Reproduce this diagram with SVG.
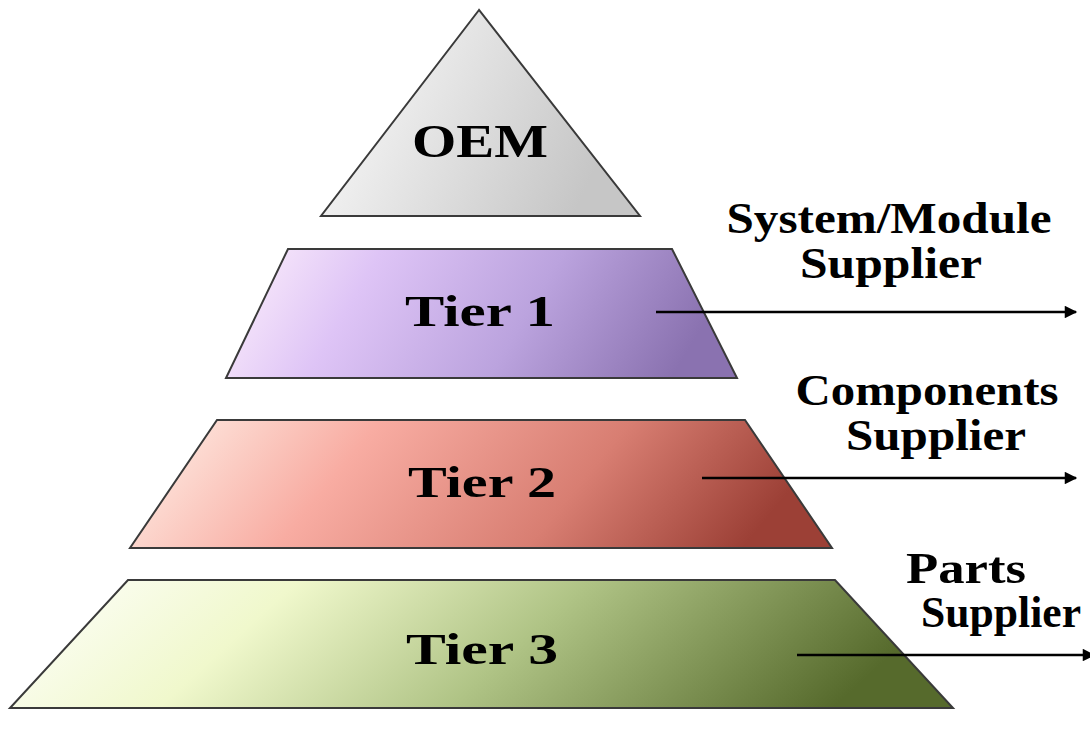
<svg xmlns="http://www.w3.org/2000/svg" width="1090" height="729" viewBox="0 0 1090 729">
<style>
.shape{stroke:#3a3a3a;stroke-width:2;stroke-linejoin:miter}
.lbl{font-family:"Liberation Serif","Times New Roman",serif;font-weight:bold;fill:#000}
.tier{font-size:45px}
.side{font-size:44px}
.conn{stroke:#000;stroke-width:2.5;fill:none}
</style>
<defs>
<linearGradient id="gOEM" x1="0" y1="0" x2="1" y2="0.3">
<stop offset="0" stop-color="#ffffff"/>
<stop offset="1" stop-color="#c6c6c6"/>
</linearGradient>
<linearGradient id="g1" x1="0" y1="0" x2="1" y2="0.15">
<stop offset="0" stop-color="#fff2fc"/>
<stop offset="0.3" stop-color="#dec4f6"/>
<stop offset="0.65" stop-color="#bba3de"/>
<stop offset="1" stop-color="#8a72b0"/>
</linearGradient>
<linearGradient id="g2" x1="0" y1="0" x2="1" y2="0.15">
<stop offset="0" stop-color="#fff4ec"/>
<stop offset="0.35" stop-color="#f8aca2"/>
<stop offset="0.7" stop-color="#d87e72"/>
<stop offset="1" stop-color="#9c4036"/>
</linearGradient>
<linearGradient id="g3" x1="0" y1="0" x2="1" y2="0.15">
<stop offset="0" stop-color="#ffffff"/>
<stop offset="0.3" stop-color="#f0f8cc"/>
<stop offset="0.6" stop-color="#b0c486"/>
<stop offset="1" stop-color="#566a2c"/>
</linearGradient>
<marker id="arr" viewBox="0 0 10 10" refX="9" refY="5" markerWidth="6.5" markerHeight="5" markerUnits="strokeWidth" orient="auto">
<path d="M0,0 L10,5 L0,10 z" fill="#000"/>
</marker>
</defs>

<g id="oem">
<polygon class="shape" points="479,10 321,216 640,216" fill="url(#gOEM)"/>
<text class="lbl" x="480" y="157" font-size="46" text-anchor="middle" textLength="136" lengthAdjust="spacingAndGlyphs">OEM</text>
</g>

<g id="tier1">
<polygon class="shape" points="288,249 672,249 737,378 226,378" fill="url(#g1)"/>
<text class="lbl tier" x="480" y="326" text-anchor="middle" textLength="150" lengthAdjust="spacingAndGlyphs">Tier 1</text>
</g>

<g id="tier2">
<polygon class="shape" points="217,420 745,420 832,548 130,548" fill="url(#g2)"/>
<text class="lbl tier" x="482" y="497" text-anchor="middle" textLength="148" lengthAdjust="spacingAndGlyphs">Tier 2</text>
</g>

<g id="tier3">
<polygon class="shape" points="128,580 835,580 953,708 10,708" fill="url(#g3)"/>
<text class="lbl tier" x="482" y="664" text-anchor="middle" textLength="152" lengthAdjust="spacingAndGlyphs">Tier 3</text>
</g>

<g id="label1">
<text class="lbl side" x="889" y="233" text-anchor="middle" textLength="325" lengthAdjust="spacingAndGlyphs">System/Module</text>
<text class="lbl side" x="891" y="278" text-anchor="middle" textLength="182" lengthAdjust="spacingAndGlyphs">Supplier</text>
</g>
<g id="label2">
<text class="lbl side" x="927" y="405" text-anchor="middle" textLength="263" lengthAdjust="spacingAndGlyphs">Components</text>
<text class="lbl side" x="936" y="450" text-anchor="middle" textLength="180" lengthAdjust="spacingAndGlyphs">Supplier</text>
</g>
<g id="label3">
<text class="lbl side" x="966" y="583" text-anchor="middle" textLength="120" lengthAdjust="spacingAndGlyphs">Parts</text>
<text class="lbl side" x="1001" y="627" text-anchor="middle" textLength="160" lengthAdjust="spacingAndGlyphs">Supplier</text>
</g>

<g id="connectors">
<line class="conn" x1="656" y1="312" x2="1076" y2="312" marker-end="url(#arr)"/>
<line class="conn" x1="702" y1="478" x2="1076" y2="478" marker-end="url(#arr)"/>
<line class="conn" x1="797" y1="655" x2="1094" y2="655" marker-end="url(#arr)"/>
</g>
</svg>
